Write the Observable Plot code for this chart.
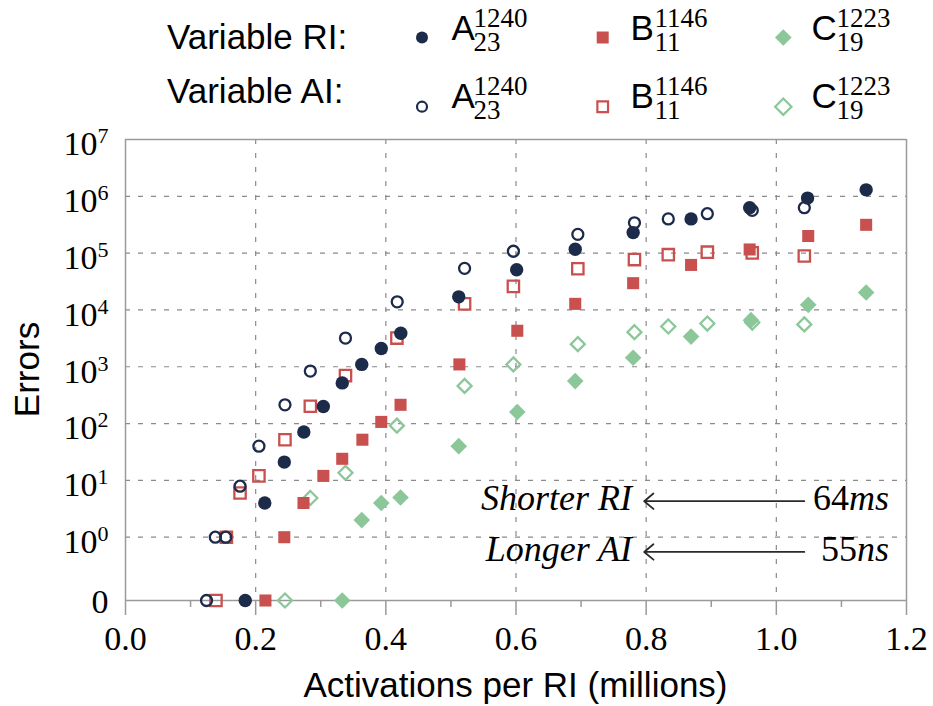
<!DOCTYPE html>
<html><head><meta charset="utf-8">
<script src="https://cdn.jsdelivr.net/npm/d3@7"></script>
<script src="https://cdn.jsdelivr.net/npm/@observablehq/plot@0.6"></script>
<style>
html,body{margin:0;padding:0;background:#fff;}
#wrap{position:relative;width:933px;height:706px;overflow:hidden;background:#fff;}
#wrap svg{position:absolute;left:0;top:0;}
</style></head><body><div id="wrap"></div>
<script>
// ---------- data ----------
const aRI_x = [0.184, 0.214, 0.244, 0.274, 0.304, 0.333, 0.363, 0.393, 0.423, 0.512, 0.601, 0.691, 0.780, 0.869, 0.959, 1.048, 1.138];
const aRI_y = [0, 4, 21, 71, 200, 520, 1100, 2100, 3900, 17000, 51000, 117000, 230000, 400000, 630000, 930000, 1300000];
const bRI_x = [0.215, 0.244, 0.2735, 0.304, 0.333, 0.364, 0.393, 0.4226, 0.513, 0.602, 0.691, 0.780, 0.869, 0.959, 1.049, 1.138];
const bRI_y = [0, 1, 4, 12, 24, 52, 107, 214, 1100, 4300, 12800, 29600, 62000, 116000, 200000, 315000];
const cRI_x = [0.333, 0.363, 0.393, 0.4226, 0.512, 0.602, 0.691, 0.780, 0.869, 0.961, 1.049, 1.138];
const cRI_y = [0, 2, 4, 5, 40, 160, 560, 1440, 3400, 6600, 12300, 20300];
const aAI_x = [0.1245, 0.138, 0.154, 0.176, 0.205, 0.245, 0.284, 0.338, 0.4175, 0.521, 0.596, 0.695, 0.782, 0.834, 0.894, 0.963, 1.043];
const aAI_y = [0, 1, 1, 7.9, 40, 214, 840, 3200, 13900, 54000, 108000, 214000, 342000, 400000, 494000, 565000, 630000];
const bAI_x = [0.139, 0.155, 0.176, 0.205, 0.245, 0.284, 0.338, 0.417, 0.521, 0.596, 0.695, 0.782, 0.834, 0.894, 0.963, 1.043];
const bAI_y = [0, 1, 6, 12, 52, 202, 700, 3200, 12800, 26000, 53000, 77000, 94000, 104000, 101000, 89000];
const cAI_x = [0.245, 0.284, 0.338, 0.417, 0.521, 0.596, 0.695, 0.782, 0.834, 0.894, 0.963, 1.043];
const cAI_y = [0, 4.9, 13.6, 92, 460, 1100, 2500, 4060, 5120, 5770, 6000, 5560];

const xTicks = [0, 0.2, 0.4, 0.6, 0.8, 1.0, 1.2];
const xMinorTicks = [0.1, 0.3, 0.5, 0.7, 0.9, 1.1];
const yExponents = [0, 1, 2, 3, 4, 5, 6, 7];
const zeroLabel = "0";
const legendRowLabels = ["Variable RI:", "Variable AI:"];
const legendNames = [{base: "A", sup: "1240", sub: "23"}, {base: "B", sup: "1146", sub: "11"}, {base: "C", sup: "1223", sub: "19"}];
const annotations = [
  {left: "Shorter RI", num: "64", unit: "ms", value: 4.3},
  {left: "Longer AI", num: "55", unit: "ns", value: 0.55}
];
const arrowFromX = 1.043, arrowToX = 0.797, leftTextEndX = 0.779, rightTextEndX = 1.174;

// ---------- styling ----------
const NAVY = "#1d2b4b", RED = "#c8504f", GREEN = "#8cc79a";
const SANS = "'Liberation Sans', Arial, Helvetica, sans-serif";
const SERIF = "'Liberation Serif', 'Times New Roman', serif";
const ZERO = Math.pow(10, -1.114); // where the value 0 sits on the log axis
const W = 933, H = 706, ML = 125, MR = 27, MT = 139, MB = 106;

const toRows = (xs, ys) => xs.map((x, i) => ({x, v: ys[i]}));
const yv = d => d.v === 0 ? ZERO : d.v;
const yTicks = [ZERO * 1.0001].concat(yExponents.map(e => Math.pow(10, e)));
const yGrid = yExponents.slice(0, 7).map(e => Math.pow(10, e));
const xGrid = xTicks.slice(1, 6);

const openMark = (xs, ys, symbol, r, color) => Plot.dot(toRows(xs, ys), {x: "x", y: yv, symbol, r, fill: "none", stroke: color, strokeWidth: 2.3});
const fillMark = (xs, ys, symbol, r, color) => Plot.dot(toRows(xs, ys), {x: "x", y: yv, symbol, r, fill: color, stroke: "none"});

const plot = Plot.plot({
  width: W, height: H,
  marginLeft: ML, marginRight: MR, marginTop: MT, marginBottom: MB,
  style: {fontFamily: SERIF, fontSize: "34px", background: "transparent", color: "black", overflow: "visible"},
  x: {domain: [0, 1.2], ticks: xTicks, tickFormat: d => d.toFixed(1), tickSize: 0, tickPadding: 25, label: null},
  y: {type: "log", domain: [ZERO, 1e7], ticks: yTicks, tickSize: 0, tickPadding: 17, label: null,
      tickFormat: d => d < 0.5 ? "zero" : "10^" + Math.round(Math.log10(d))},
  marks: [
    Plot.ruleY(yGrid, {stroke: "#8a8a8a", strokeWidth: 1.2, strokeDasharray: "5,8"}),
    Plot.ruleX(xGrid, {stroke: "#8a8a8a", strokeWidth: 1.2, strokeDasharray: "5,9"}),
    Plot.ruleY([1e7, ZERO], {stroke: "#9a9a9a", strokeWidth: 1.5}),
    Plot.ruleX([0, 1.2], {stroke: "#9a9a9a", strokeWidth: 1.5}),
    Plot.ruleX(xTicks, {y1: ZERO, y2: ZERO, insetBottom: -15, stroke: "#9a9a9a", strokeWidth: 1.5}),
    Plot.ruleX(xMinorTicks, {y1: ZERO, y2: ZERO, insetBottom: -7, stroke: "#9a9a9a", strokeWidth: 1.5}),
    openMark(cAI_x, cAI_y, "diamond2", 6.3, GREEN),
    openMark(bAI_x, bAI_y, "square", 6.4, RED),
    openMark(aAI_x, aAI_y, "circle", 5.5, NAVY),
    fillMark(cRI_x, cRI_y, "diamond2", 7.5, GREEN),
    fillMark(bRI_x, bRI_y, "square", 6.8, RED),
    fillMark(aRI_x, aRI_y, "circle", 6.7, NAVY),
    Plot.arrow(annotations, {x1: () => arrowFromX, x2: () => arrowToX, y1: "value", y2: "value",
      stroke: "#2a2a2a", strokeWidth: 1.8, headLength: 10, headAngle: 80})
  ]
});
document.getElementById("wrap").appendChild(plot);

// y tick labels: superscript exponents, and "0" for the zero row
d3.select(plot).selectAll("text").each(function () {
  const t = this.textContent;
  const m = /^10\^(-?\d+)$/.exec(t);
  const s = d3.select(this);
  const inY = /y-axis/.test(this.parentNode.getAttribute("aria-label") || "");
  if (m) {
    s.text(null);
    s.append("tspan").attr("dy", 5).text("10");
    s.append("tspan").attr("dy", -12).attr("font-size", 22).text(m[1]);
  } else if (t === "zero" || (inY && t === "")) {
    s.text(null);
    s.append("tspan").attr("dy", 2).text(zeroLabel);
  }
});

// ---------- overlay: legend, axis titles, annotation text ----------
const xS = d3.scaleLinear([0, 1.2], [ML, W - MR]);
const yS = d3.scaleLog([ZERO, 1e7], [H - MB, MT]);
const ov = d3.select("#wrap").append("svg").attr("width", W).attr("height", H).style("pointer-events", "none");

ov.append("text").attr("transform", `translate(38.5,${(MT + H - MB) / 2}) rotate(-90)`)
  .attr("text-anchor", "middle").attr("font-family", SANS).attr("font-size", 35).text("Errors");
ov.append("text").attr("x", (ML + W - MR) / 2).attr("y", 697)
  .attr("text-anchor", "middle").attr("font-family", SANS).attr("font-size", 35).text("Activations per RI (millions)");

const rowLabelBase = [49.3, 102.6];
legendRowLabels.forEach((lab, r) => {
  ov.append("text").attr("x", 167).attr("y", rowLabelBase[r]).attr("font-family", SANS).attr("font-size", 35).text(lab);
});
const colMarkX = [422, 602.7, 783.3], colLetterX = [451.5, 630.5, 811.5], colScriptX = [473.5, 654.5, 836.5];
const rowMarkY = [37.5, 106.7], rowBase = [39.5, 107.5];
const colors = [NAVY, RED, GREEN];
const filledSym = [[d3.symbolCircle, Math.PI * 36], [d3.symbolSquare, 144], [d3.symbolDiamond2, 178]];
const openSym = [[d3.symbolCircle, Math.PI * 25], [d3.symbolSquare, 114], [d3.symbolDiamond2, 171]];
[0, 1].forEach(r => {
  legendNames.forEach((nm, c) => {
    const [sym, size] = (r === 0 ? filledSym : openSym)[c];
    const p = ov.append("path").attr("d", d3.symbol(sym, size)())
      .attr("transform", `translate(${colMarkX[c]},${rowMarkY[r]})`);
    if (r === 0) p.attr("fill", colors[c]);
    else p.attr("fill", "none").attr("stroke", colors[c]).attr("stroke-width", 2.2);
    const t = ov.append("text").attr("x", colLetterX[c]).attr("y", rowBase[r]);
    t.append("tspan").attr("font-family", SANS).attr("font-size", 35).text(nm.base);
    t.append("tspan").attr("x", colScriptX[c]).attr("y", rowBase[r] - 12.5)
      .attr("font-family", SERIF).attr("font-size", 27).text(nm.sup);
    t.append("tspan").attr("x", colScriptX[c]).attr("y", rowBase[r] + 11)
      .attr("font-family", SERIF).attr("font-size", 27).text(nm.sub);
  });
});

annotations.forEach(a => {
  const y = yS(a.value) + 9.5;
  ov.append("text").attr("x", xS(leftTextEndX)).attr("y", y).attr("text-anchor", "end")
    .attr("font-family", SERIF).attr("font-style", "italic").attr("font-size", 36).text(a.left);
  const t = ov.append("text").attr("x", xS(rightTextEndX)).attr("y", y).attr("text-anchor", "end")
    .attr("font-family", SERIF).attr("font-size", 36);
  t.append("tspan").text(a.num);
  t.append("tspan").attr("font-style", "italic").text(a.unit);
});
</script></body></html>
